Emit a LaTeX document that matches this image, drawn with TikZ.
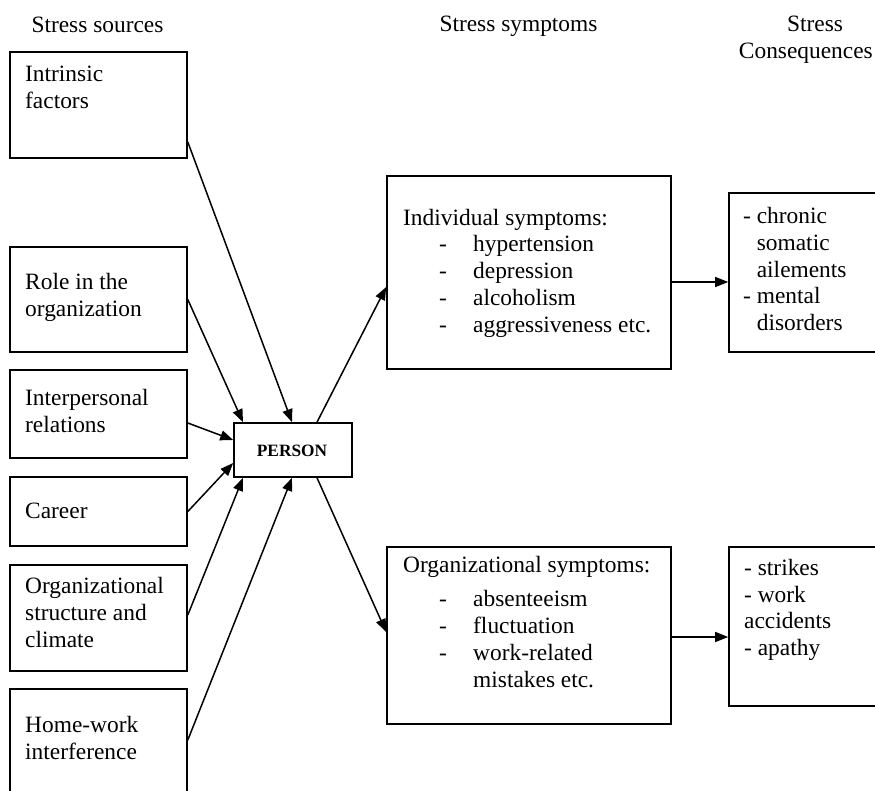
\documentclass[tikz,border=0pt]{standalone}
\usepackage{fontspec}
\setmainfont{Liberation Serif}
\usetikzlibrary{arrows.meta}
\newcommand\firstln{\rule{0pt}{18pt}}
\begin{document}
\begin{tikzpicture}[x=1pt,y=-1pt,
  box/.style={draw, line width=1.6pt, rectangle, inner sep=0pt},
  txt/.style={anchor=north west, inner sep=0pt, align=left, font=\fontsize{23.4}{26.8}\selectfont},
  ttl/.style={anchor=base, inner sep=0pt, font=\fontsize{23.4}{26.8}\selectfont},
  arr/.style={-{Triangle[length=13pt,width=10pt]}, line width=1.5pt}]
\path[use as bounding box] (0,0) rectangle (875,790);
\clip (0,0) rectangle (875,790);

% titles
\node[ttl] (h1) at (97.5,32) {Stress sources};
\node[ttl] (h2) at (518.5,31) {Stress symptoms};
\node[ttl] (h3) at (815,31) {Stress};
\node[ttl, anchor=base east] (h4) at (873,58) {Consequences};

% left boxes
\node[box, minimum width=177pt, minimum height=106pt] (intr) at (98.5,105) {};
\node[box, minimum width=177pt, minimum height=105pt] (role) at (98.5,299.5) {};
\node[box, minimum width=177pt, minimum height=88pt] (inter) at (98.5,414) {};
\node[box, minimum width=177pt, minimum height=69pt] (career) at (98.5,511.5) {};
\node[box, minimum width=177pt, minimum height=106pt] (orgs) at (98.5,618) {};
\node[box, minimum width=177pt, minimum height=111pt] (home) at (98.5,744.5) {};

\node[txt] (t1) at (25,63) {\firstln Intrinsic\\factors};
\node[txt] (t2) at (25,271.3) {\firstln Role in the\\organization};
\node[txt] (t3) at (25,387) {\firstln Interpersonal\\relations};
\node[txt] (t4) at (25,500) {\firstln Career};
\node[txt] (t5) at (25,575.3) {\firstln Organizational\\structure and\\climate};
\node[txt] (t6) at (25,714.3) {\firstln Home-work\\interference};

% person
\node[box, minimum width=118pt, minimum height=54pt] (person) at (293,450) {};
\node[anchor=base, inner sep=0pt, font=\fontsize{17.3}{20}\selectfont\bfseries] (pl) at (292,456) {PERSON};

% symptom boxes
\node[box, minimum width=284pt, minimum height=193pt] (indiv) at (529,272.5) {};
\node[box, minimum width=284pt, minimum height=177pt] (orgsym) at (529,635.5) {};

\node[txt] (ih) at (403,207) {\firstln Individual symptoms:};
\node[txt] (id) at (439,233.7) {\firstln -\\-\\-\\-};
\node[txt] (ii) at (473,233.7) {\firstln hypertension\\depression\\alcoholism\\aggressiveness etc.};

\node[txt] (oh) at (403,554.3) {\firstln Organizational symptoms:};
\node[txt] (od) at (439,588.7) {\firstln -\\-\\-};
\node[txt] (oi) at (473,588.7) {\firstln absenteeism\\fluctuation\\work-related\\mistakes etc.};

% consequence boxes
\node[box, minimum width=161pt, minimum height=159pt] (cons1) at (809.5,272.5) {};
\node[box, minimum width=161pt, minimum height=159pt] (cons2) at (809.5,626.5) {};

\node[txt] (c1) at (743,205.3) {\firstln - chronic\\\hphantom{-}\ somatic\\\hphantom{-}\ ailements\\- mental\\\hphantom{-}\ disorders};
\node[txt] (c2) at (744,557) {\firstln - strikes\\- work\\accidents\\- apathy};

% connectors
\draw[arr] ([yshift=-37pt]intr.east) -- ([xshift=-1pt]person.north);
\draw[arr] (role.east) -- ([xshift=-50pt]person.north);
\draw[arr] ([yshift=-9pt]inter.east) -- ([yshift=10pt]person.west);
\draw[arr] (career.east) -- ([yshift=-13pt]person.west);
\draw[arr] ([yshift=3pt]orgs.east) -- ([xshift=-50pt]person.south);
\draw[arr] ([yshift=4.5pt]home.east) -- ([xshift=-1pt]person.south);
\draw[arr] ([xshift=24pt]person.north) -- ([yshift=-14.5pt]indiv.west);
\draw[arr] ([xshift=24pt]person.south) -- ([yshift=3.5pt]orgsym.west);
\draw[arr] ([yshift=-9.5pt]indiv.east) -- ([yshift=-9.5pt]cons1.west);
\draw[arr] ([yshift=-1.5pt]orgsym.east) -- ([yshift=-10.5pt]cons2.west);
\end{tikzpicture}
\end{document}
